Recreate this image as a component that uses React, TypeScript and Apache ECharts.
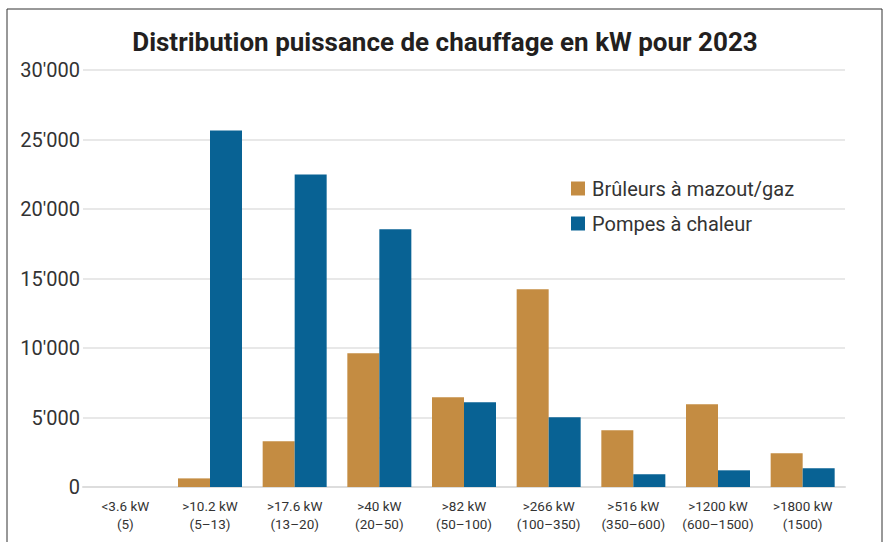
import React, { useEffect, useRef } from "react";
import * as echarts from "echarts";

const categories = [
  "<3.6 kW\n(5)",
  ">10.2 kW\n(5–13)",
  ">17.6 kW\n(13–20)",
  ">40 kW\n(20–50)",
  ">82 kW\n(50–100)",
  ">266 kW\n(100–350)",
  ">516 kW\n(350–600)",
  ">1200 kW\n(600–1500)",
  ">1800 kW\n(1500)",
];
const burnerValues = [0, 620, 3290, 9620, 6450, 14220, 4080, 5950, 2420];
const heatPumpValues = [0, 25650, 22490, 18540, 6090, 5010, 910, 1200, 1345];
const yTickLabels = ["0", "5'000", "10'000", "15'000", "20'000", "25'000", "30'000"];
const seriesNames = ["Brûleurs à mazout/gaz", "Pompes à chaleur"];
const titleText = "Distribution puissance de chauffage en kW pour 2023";

export default function App() {
  const ref = useRef<HTMLDivElement>(null);
  useEffect(() => {
    if (!ref.current) return;
    const chart = echarts.init(ref.current, null, { renderer: "svg" });
    const font = "Roboto, 'Noto Sans', sans-serif";
    chart.setOption({
      animation: false,
      backgroundColor: "#ffffff",
      title: {
        text: titleText,
        left: "center",
        top: 24,
        textStyle: { fontSize: 26, fontWeight: "bold", color: "#231f20", fontFamily: font },
      },
      graphic: [
        {
          type: "rect",
          shape: { x: 7, y: 9, width: 875, height: 600 },
          style: { fill: "none", stroke: "#333333", lineWidth: 1 },
          silent: true,
        },
      ],
      legend: {
        orient: "vertical",
        left: 566,
        top: 173,
        itemWidth: 14,
        itemHeight: 14,
        itemGap: 14,
        icon: "rect",
        textStyle: { fontSize: 20, color: "#333333", fontFamily: font, lineHeight: 21, padding: [0, 0, 0, 2] },
        data: seriesNames,
      },
      grid: { left: 83, right: 45, top: 70, bottom: 55, containLabel: false },
      xAxis: {
        type: "category",
        data: categories,
        axisLine: { show: true, lineStyle: { color: "#dddddd", width: 2 } },
        axisTick: { show: false },
        axisLabel: {
          interval: 0,
          margin: 10,
          fontSize: 13.5,
          lineHeight: 18,
          color: "#333333",
          fontFamily: font,
        },
      },
      yAxis: {
        type: "value",
        min: 0,
        max: 30000,
        interval: 5000,
        axisLine: { show: false },
        axisTick: { show: false },
        splitLine: { lineStyle: { color: "#e0e0e0", width: 1.5 } },
        axisLabel: {
          margin: 3,
          fontSize: 20,
          color: "#333333",
          fontFamily: font,
          formatter: (v: number) => yTickLabels[Math.round(v / 5000)] ?? String(v),
        },
      },
      series: [
        {
          name: seriesNames[0],
          type: "bar",
          data: burnerValues,
          barWidth: 32,
          barGap: "0%",
          itemStyle: { color: "#C48C42" },
        },
        {
          name: seriesNames[1],
          type: "bar",
          data: heatPumpValues,
          barWidth: 32,
          barGap: "0%",
          itemStyle: { color: "#086294" },
        },
      ],
    });
    return () => chart.dispose();
  }, []);
  return (
    <div
      ref={ref}
      style={{ position: "fixed", left: 0, top: 0, width: 890, height: 542 }}
    />
  );
}
